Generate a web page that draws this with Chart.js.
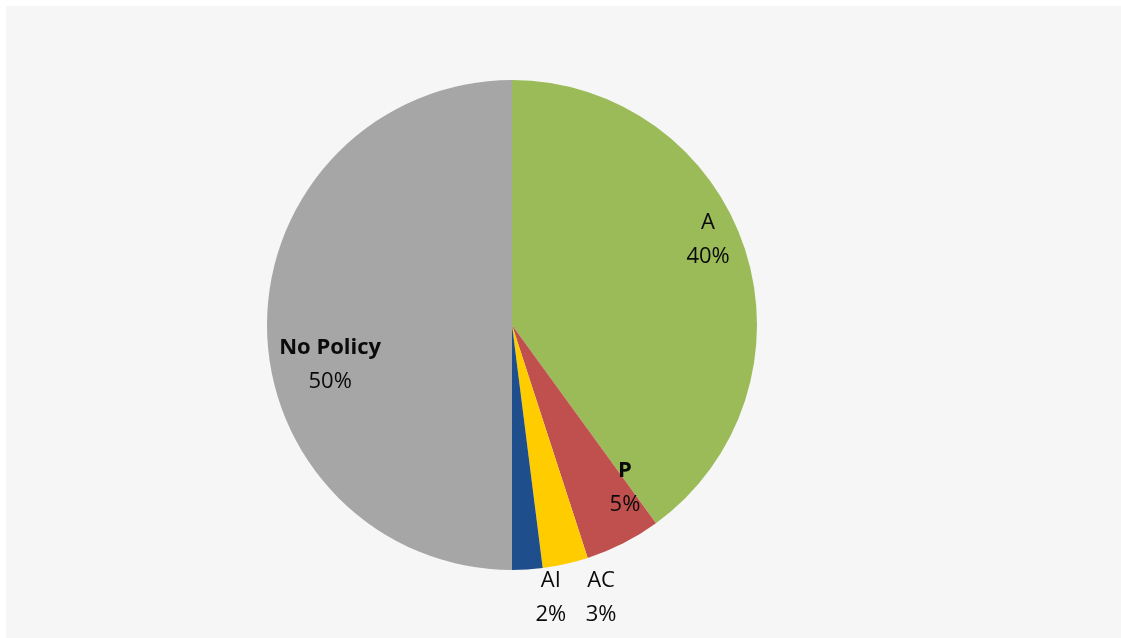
<!DOCTYPE html>
<html>
<head>
<meta charset="utf-8">
<script src="https://cdn.jsdelivr.net/npm/chart.js@4/dist/chart.umd.min.js"></script>
<style>
  html, body { margin: 0; padding: 0; background: #f6f6f6; width: 100%; height: 100%; overflow: hidden; }
  #topStrip { position: absolute; left: 0; top: 0; width: 100%; height: 6px; background: #ffffff; }
  #leftStrip { position: absolute; left: 0; top: 0; width: 6px; height: 100%; background: #ffffff; }
  #wrap { position: absolute; left: 0; top: 0; width: 1121px; height: 638px; }
</style>
</head>
<body>
<div id="topStrip"></div>
<div id="leftStrip"></div>
<div id="wrap"><canvas id="c"></canvas></div>
<script>
const categories = ['A', 'P', 'AC', 'AI', 'No Policy'];
const values = [40, 5, 3, 2, 50];
const colors = ['#9bbb59', '#c0504d', '#ffcc00', '#1f4e8c', '#a6a6a6'];
const boldLabels = [false, true, false, false, true];

// label placement: radius as fraction of outer radius, angle shift (degrees) from slice middle
const labelPlacement = [
  { r: 0.872, shift: -5.4 },
  { r: 0.81,  shift: -7.7 },
  { r: 1.17,  shift: -5.5 },
  { r: 1.126, shift: -4.5 },
  { r: 0.76,  shift: -12.4 }
];

const pieLabels = {
  id: 'pieLabels',
  afterDatasetsDraw(chart, args, opts) {
    const ctx = chart.ctx;
    const meta = chart.getDatasetMeta(0);
    const data = chart.data.datasets[0].data;
    const total = data.reduce((a, b) => a + b, 0);
    ctx.save();
    ctx.textAlign = 'center';
    ctx.textBaseline = 'middle';
    ctx.fillStyle = '#0a0a0a';
    meta.data.forEach((arc, i) => {
      const p = arc.getProps(['x', 'y', 'startAngle', 'endAngle', 'outerRadius'], true);
      const pl = opts.placement[i];
      const mid = (p.startAngle + p.endAngle) / 2 + pl.shift * Math.PI / 180;
      const rr = p.outerRadius * pl.r;
      const cx = p.x + Math.cos(mid) * rr;
      const cy = p.y + Math.sin(mid) * rr;
      const pct = Math.round(data[i] / total * 100) + '%';
      ctx.font = (opts.bold[i] ? 'bold ' : '') + '22px "Open Sans", sans-serif';
      ctx.fillText(chart.data.labels[i], cx, cy - 17);
      ctx.font = '22px "Open Sans", sans-serif';
      ctx.fillText(pct, cx, cy + 17);
    });
    ctx.restore();
  }
};

new Chart(document.getElementById('c'), {
  type: 'pie',
  data: {
    labels: categories,
    datasets: [{
      data: values,
      backgroundColor: colors,
      borderWidth: 0
    }]
  },
  options: {
    responsive: true,
    maintainAspectRatio: false,
    animation: false,
    layout: { padding: { left: 267, right: 364, top: 80, bottom: 68 } },
    plugins: {
      legend: { display: false },
      tooltip: { enabled: false },
      pieLabels: { placement: labelPlacement, bold: boldLabels }
    }
  },
  plugins: [pieLabels]
});
</script>
</body>
</html>
